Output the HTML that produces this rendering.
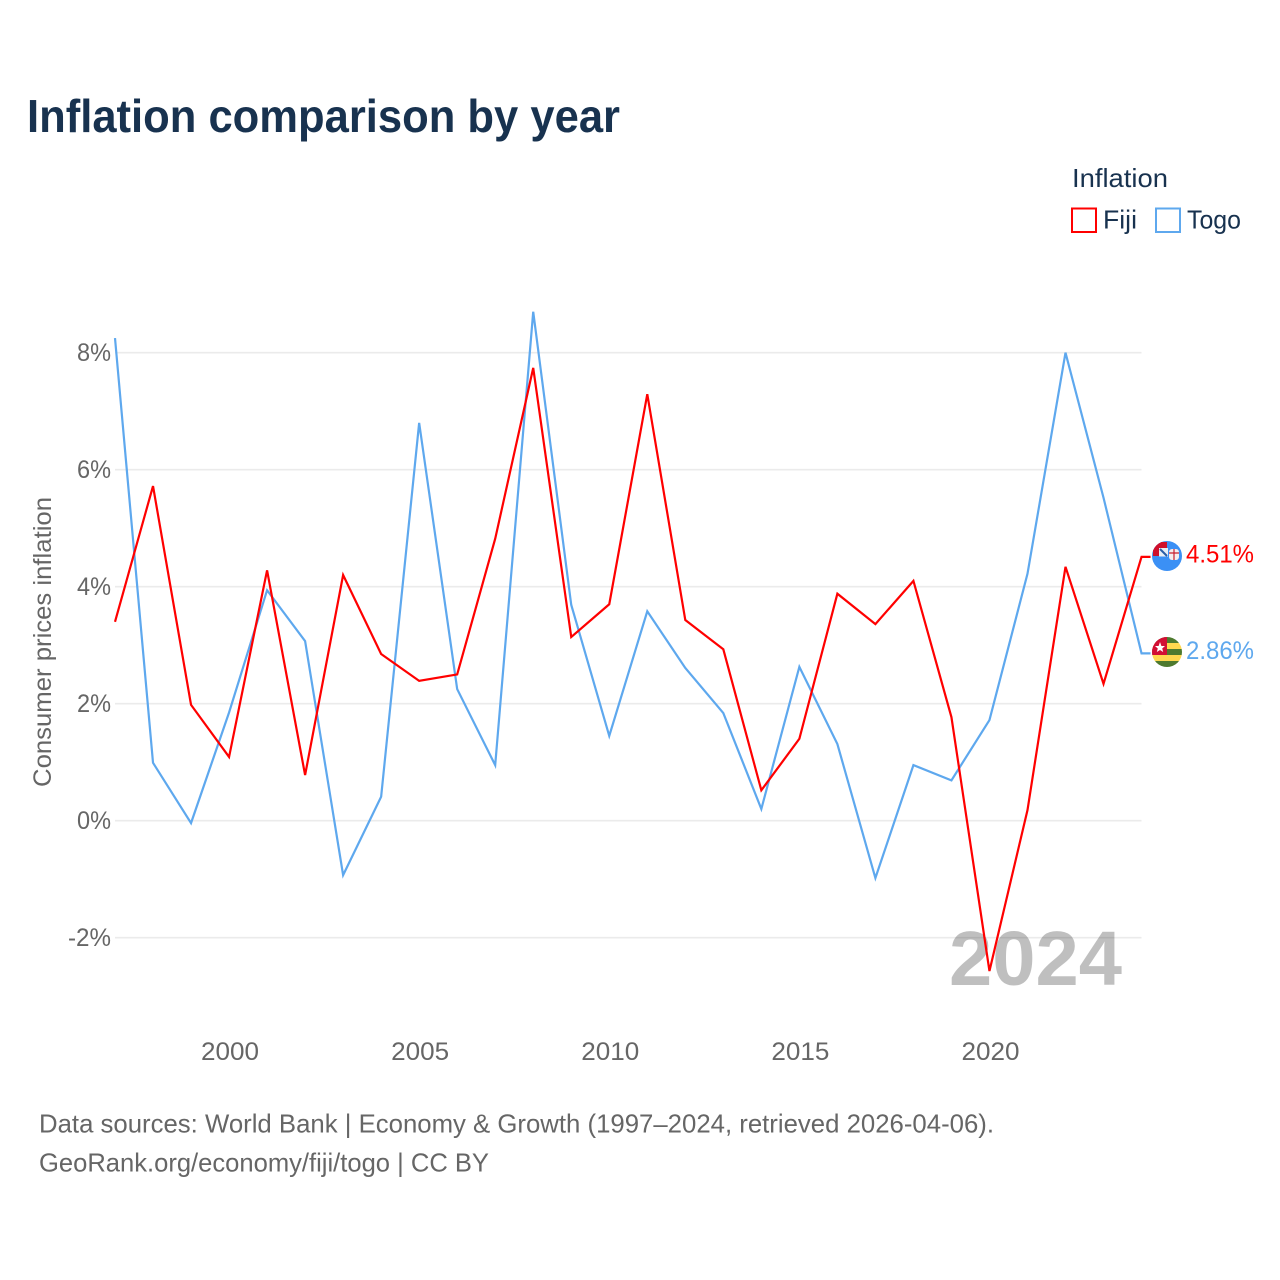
<!DOCTYPE html>
<html lang="en">
<head>
<meta charset="utf-8">
<title>Inflation comparison by year</title>
<style>
html,body{margin:0;padding:0;background:#fff;width:1280px;height:1280px;overflow:hidden}
svg{display:block}
text{font-family:"Liberation Sans",Arial,sans-serif}
</style>
</head>
<body>
<svg id="chart" width="1280" height="1280" viewBox="0 0 1280 1280" xmlns="http://www.w3.org/2000/svg">
  <defs>
    <clipPath id="clip-fiji"><circle cx="1167" cy="556" r="15"/></clipPath>
    <clipPath id="clip-togo"><circle cx="1167" cy="652" r="15"/></clipPath>
  </defs>
  <rect width="1280" height="1280" fill="#fff"/>
  <text x="27" y="132" font-size="46" font-weight="700" fill="#18324f" textLength="593" lengthAdjust="spacingAndGlyphs">Inflation comparison by year</text>

  <g>
    <text x="1072" y="187" font-size="26" fill="#18324f" textLength="96" lengthAdjust="spacingAndGlyphs">Inflation</text>
    <rect x="1072" y="208.500" width="24" height="23.500" fill="none" stroke="#ff0000" stroke-width="2"/>
    <text x="1103" y="228.500" font-size="26" fill="#18324f" textLength="34" lengthAdjust="spacingAndGlyphs">Fiji</text>
    <rect x="1156" y="208.500" width="24" height="23.500" fill="none" stroke="#5ea8ee" stroke-width="2"/>
    <text x="1187" y="228.500" font-size="26" fill="#18324f" textLength="54" lengthAdjust="spacingAndGlyphs">Togo</text>
  </g>

  <g id="grid"></g>
  <text x="949" y="985" font-size="77" font-weight="700" fill="#000" fill-opacity="0.25" textLength="173" lengthAdjust="spacingAndGlyphs">2024</text>
  <g id="y-axis"></g>
  <g id="x-axis"></g>
  <text transform="translate(51,642) rotate(-90)" text-anchor="middle" font-size="25" fill="#666" textLength="290" lengthAdjust="spacingAndGlyphs">Consumer prices inflation</text>

  <g id="series"></g>

  <g clip-path="url(#clip-fiji)">
    <rect x="1152" y="541" width="30" height="30" fill="#3b90f5"/>
    <rect x="1153" y="542" width="14" height="14" fill="#cf0f2c"/>
    <rect x="1159" y="548" width="9" height="8.500" fill="#e8eef5"/>
    <path d="M1160 549 L1167 556" stroke="#2a5ea8" stroke-width="2"/>
    <rect x="1169" y="549" width="10" height="11" rx="3" fill="#f4eeee"/>
    <path d="M1174 549V560M1169 553H1179" stroke="#c8202f" stroke-width="1.200"/>
  </g>
  <g clip-path="url(#clip-togo)">
    <rect x="1152" y="637" width="30" height="6" fill="#4e7a2f"/>
    <rect x="1152" y="643" width="30" height="6" fill="#ffd84f"/>
    <rect x="1152" y="649" width="30" height="6" fill="#4e7a2f"/>
    <rect x="1152" y="655" width="30" height="6" fill="#ffd84f"/>
    <rect x="1152" y="661" width="30" height="6" fill="#4e7a2f"/>
    <rect x="1152" y="637" width="15" height="18" fill="#d20f34"/>
    <polygon points="1160,642 1161.400,646 1165,646 1162.200,648.500 1163.200,652 1160,650 1156.800,652 1157.800,648.500 1155,646 1158.600,646" fill="#fff"/>
  </g>

  <g id="end-labels"></g>

  <text x="39" y="1132.500" font-size="26" fill="#666" textLength="955" lengthAdjust="spacingAndGlyphs">Data sources: World Bank | Economy &amp; Growth (1997–2024, retrieved 2026-04-06).</text>
  <text x="39" y="1171.500" font-size="26" fill="#666" textLength="450" lengthAdjust="spacingAndGlyphs">GeoRank.org/economy/fiji/togo | CC BY</text>
</svg>
<script>
const years = [1997,1998,1999,2000,2001,2002,2003,2004,2005,2006,2007,2008,2009,2010,2011,2012,2013,2014,2015,2016,2017,2018,2019,2020,2021,2022,2023,2024];
const fijiValues = [3.40,5.72,1.98,1.09,4.28,0.78,4.20,2.85,2.39,2.50,4.82,7.74,3.14,3.70,7.29,3.43,2.93,0.52,1.40,3.88,3.36,4.10,1.77,-2.57,0.18,4.34,2.34,4.51];
const togoValues = [8.25,0.99,-0.04,1.85,3.94,3.07,-0.93,0.41,6.80,2.25,0.95,8.70,3.69,1.45,3.58,2.61,1.84,0.20,2.63,1.31,-0.98,0.95,0.69,1.72,4.22,8.00,5.52,2.86];
const yTickValues = [8,6,4,2,0,-2];
const yTickLabels = ["8%","6%","4%","2%","0%","-2%"];
const xTickValues = [2000,2005,2010,2015,2020];
const xTickLabels = ["2000","2005","2010","2015","2020"];

const NS = "http://www.w3.org/2000/svg";
function xScale(year){ return 115 + (year - 1997) * 38.02; }
function yScale(v){ return 820.7 - v * 58.5; }
function make(tag, parent, attrs, txt){
  const el = document.createElementNS(NS, tag);
  for (const k in attrs) el.setAttribute(k, attrs[k]);
  if (txt !== undefined) el.textContent = txt;
  parent.appendChild(el);
  return el;
}

const gridG = document.getElementById('grid');
const yG = document.getElementById('y-axis');
yTickValues.forEach(function(v, i){
  const line = make('line', gridG, {x1:115, x2:1141.5, y1:yScale(v), y2:yScale(v), stroke:'#ebebeb', 'stroke-width':1.6});
  
  
  const lab = yTickLabels[i];
  const t = make('text', yG, {x:111, y:yScale(v)+8.5, 'text-anchor':'end', 'font-size':25, fill:'#666', textLength: lab.length === 3 ? 43 : 34, lengthAdjust:'spacingAndGlyphs'}, lab);
  
  
});

const xG = document.getElementById('x-axis');
xTickValues.forEach(function(v, i){
  const t = make('text', xG, {x:xScale(v)+1, y:1060, 'text-anchor':'middle', 'font-size':25, fill:'#666', textLength:58, lengthAdjust:'spacingAndGlyphs'}, xTickLabels[i]);
  
  
});

const seriesG = document.getElementById('series');
const labelG = document.getElementById('end-labels');
function drawSeries(values, color, name){
  const pts = values.map(function(v, i){ return xScale(years[i]).toFixed(2) + ',' + yScale(v).toFixed(2); });
  const lastX = xScale(years[years.length-1]);
  const lastV = values[values.length-1];
  pts.push((lastX + 9).toFixed(2) + ',' + yScale(lastV).toFixed(2));
  const line = make('polyline', seriesG, {points:pts.join(' '), fill:'none', stroke:color, 'stroke-width':2.2, 'stroke-linejoin':'miter'});
  
  
  const t = make('text', labelG, {x:1186, y:yScale(lastV)+5.5, 'font-size':25, fill:color, textLength:68, lengthAdjust:'spacingAndGlyphs'}, lastV.toFixed(2) + '%');
  
  
}
drawSeries(togoValues, '#5ea8ee', 'togo');
drawSeries(fijiValues, '#ff0000', 'fiji');
</script>
</body>
</html>
